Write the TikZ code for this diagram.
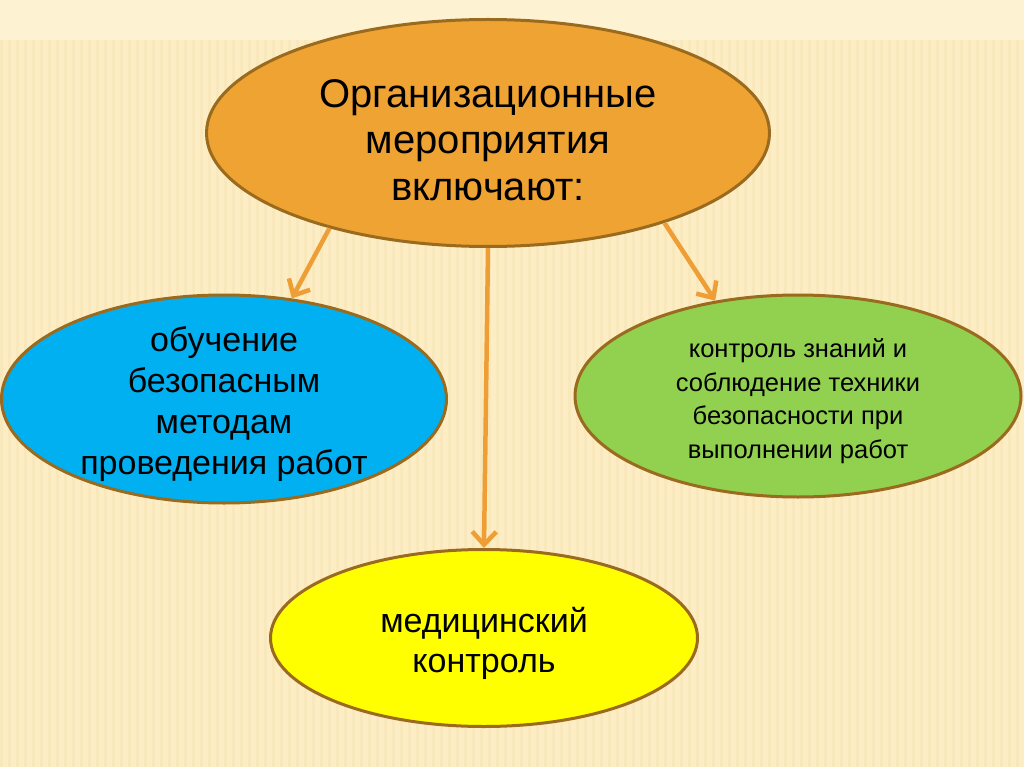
\documentclass[tikz,border=0pt]{standalone}
\usepackage{fontspec}
\setmainfont{Liberation Sans}
\usetikzlibrary{shapes.geometric,arrows.meta}
\definecolor{bgc}{HTML}{FCEDC4}
\definecolor{bgtop}{HTML}{FDF2D2}
\definecolor{stripe}{HTML}{EBD59A}
\definecolor{orangef}{HTML}{EFA333}
\definecolor{edgec}{HTML}{9A6A1E}
\definecolor{bluef}{HTML}{00B0F0}
\definecolor{greenf}{HTML}{92D050}
\definecolor{yellowf}{HTML}{FFFF00}
\definecolor{arrowc}{HTML}{EE9E35}
\tikzset{
  oval/.style={ellipse, draw=edgec, line width=3pt, inner sep=0pt},
  label text/.style={align=center, text=black, inner sep=0pt},
  link/.style={draw=arrowc, line width=4.5pt, -{Straight Barb[length=13pt,width=24pt,line width=4.5pt]}}
}
\begin{document}
\begin{tikzpicture}[x=1pt,y=-1pt]
\useasboundingbox (0,0) rectangle (1024,767);
\fill[bgc] (0,0) rectangle (1024,767);
\fill[bgtop] (0,0) rectangle (1024,40);
\foreach \i in {0,...,127} {
  \fill[stripe, opacity=0.18] ({\i*8},40) rectangle ({\i*8+3},767);
}
\node[oval, fill=orangef, minimum width=563pt, minimum height=227pt] (top) at (488,133) {};
\node[oval, fill=bluef, minimum width=445pt, minimum height=208pt] (left) at (224,399) {};
\node[oval, fill=greenf, minimum width=446pt, minimum height=202pt] (right) at (798,396) {};
\node[oval, fill=yellowf, minimum width=427pt, minimum height=177pt] (bottom) at (484,638) {};
\node[label text, font=\fontsize{40}{46.5}\selectfont] (toptext) at ([yshift=-7pt]top.center)
  {Организационные\\мероприятия\\включают:};
\node[label text, font=\fontsize{34}{41}\selectfont] (lefttext) at ([yshift=-5pt]left.center)
  {обучение\\безопасным\\методам\\проведения работ};
\node[label text, font=\fontsize{25.5}{33.5}\selectfont] (righttext) at ([yshift=-5pt]right.center)
  {контроль знаний и\\соблюдение техники\\безопасности при\\выполнении работ};
\node[label text, font=\fontsize{34}{40}\selectfont] (bottomtext) at ([yshift=-5pt]bottom.center)
  {медицинский\\контроль};
\draw[link] (top.211) -- (left.56);
\draw[link] (top.south) -- (bottom.north);
\draw[link] (top.-27.5) -- (right.131.5);
\end{tikzpicture}
\end{document}
